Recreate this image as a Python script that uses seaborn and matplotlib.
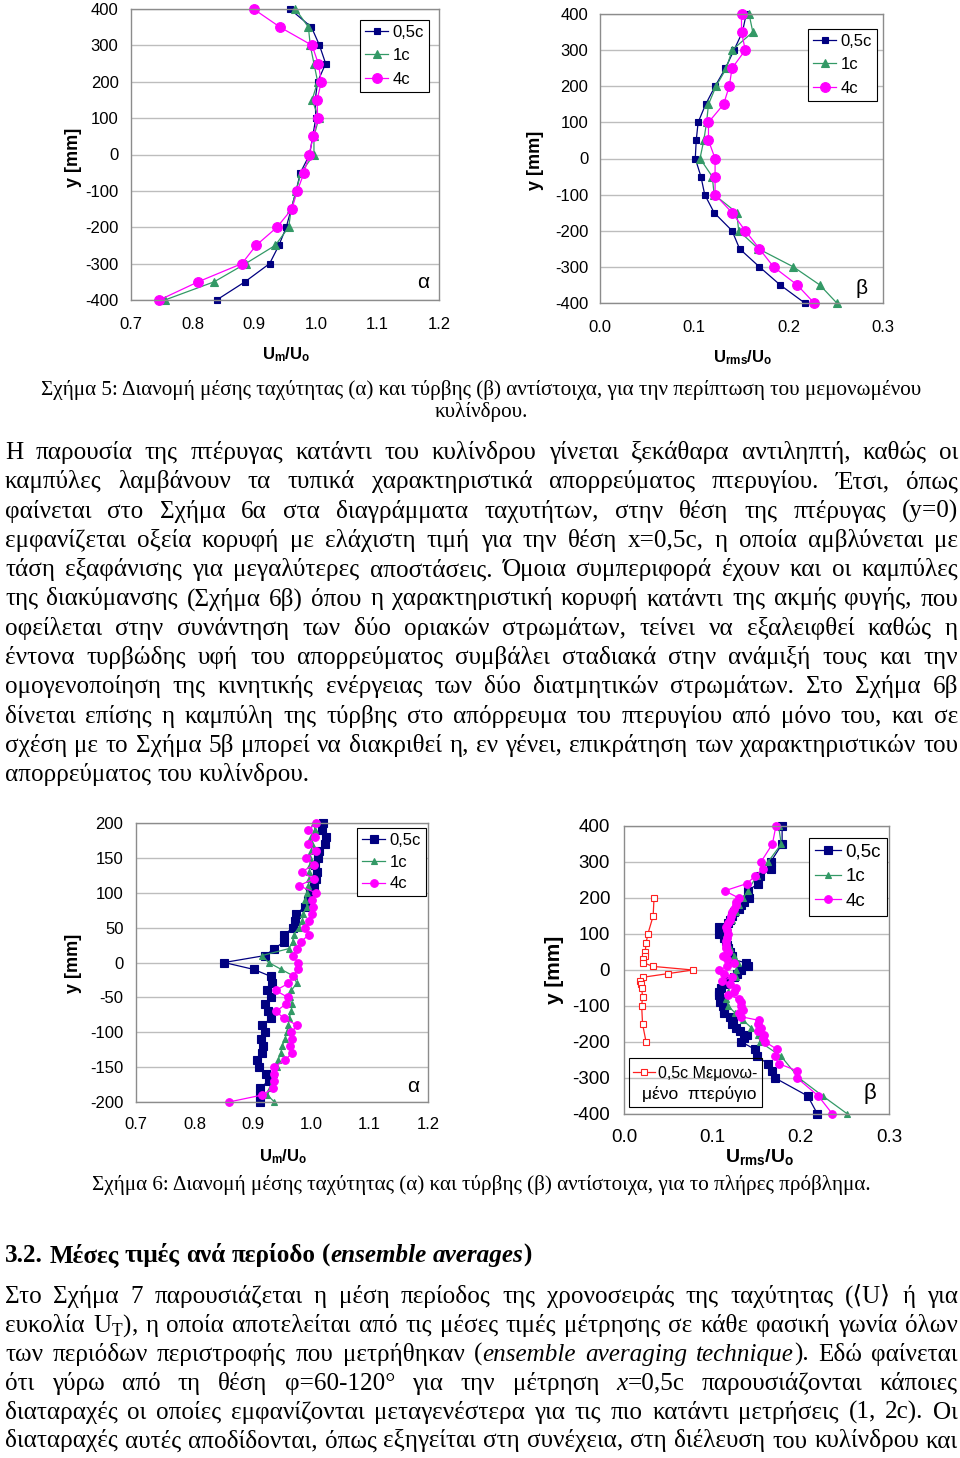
import matplotlib
matplotlib.use('Agg')
import matplotlib.pyplot as plt
import seaborn as sns
from matplotlib.patches import Rectangle

# ---- Figure 5: isolated cylinder, profiles every 50 mm ----
y5 = [400, 350, 300, 250, 200, 150, 100, 50, 0, -50, -100, -150, -200, -250, -300, -350, -400]
um5_05c = [0.958, 0.993, 1.006, 1.016, 1.003, 0.999, 1.000, 0.995, 0.990, 0.975, 0.968, 0.960, 0.952, 0.940, 0.925, 0.885, 0.839]
um5_1c = [0.967, 0.988, 0.991, 0.997, 1.003, 0.994, 1.005, 0.997, 0.997, 0.976, 0.968, 0.960, 0.956, 0.934, 0.886, 0.835, 0.755]
um5_4c = [0.899, 0.942, 0.994, 1.004, 1.009, 1.002, 1.003, 0.996, 0.989, 0.981, 0.970, 0.961, 0.937, 0.903, 0.880, 0.809, 0.746]
rms5_05c = [0.155, 0.151, 0.142, 0.133, 0.122, 0.112, 0.104, 0.102, 0.101, 0.107, 0.111, 0.121, 0.140, 0.148, 0.169, 0.191, 0.217]
rms5_1c = [0.158, 0.162, 0.140, 0.134, 0.123, 0.115, 0.113, 0.110, 0.106, 0.119, 0.121, 0.145, 0.147, 0.168, 0.205, 0.233, 0.251]
rms5_4c = [0.150, 0.150, 0.154, 0.140, 0.137, 0.131, 0.115, 0.115, 0.122, 0.122, 0.122, 0.140, 0.154, 0.169, 0.184, 0.209, 0.227]

# ---- Figure 6a: full problem, mean velocity every 10 mm ----
y6a = [200, 190, 180, 170, 160, 150, 140, 130, 120, 110, 100, 90, 80, 70, 60, 50, 40, 30, 20, 10, 0,
       -10, -20, -30, -40, -50, -60, -70, -80, -90, -100, -110, -120, -130, -140, -150, -160, -170, -180, -190, -200]
um6_05c = [1.020, 1.019, 1.026, 1.024, 1.014, 1.011, 1.006, 1.010, 1.008, 1.004, 0.998, 0.995, 0.990, 0.974, 0.972, 0.969,
           0.954, 0.954, 0.937, 0.921, 0.851, 0.902, 0.931, 0.933, 0.925, 0.931, 0.921, 0.926, 0.931, 0.916, 0.921,
           0.914, 0.917, 0.916, 0.908, 0.911, 0.923, 0.927, 0.912, 0.912, 0.913]
um6_1c = [1.005, 1.006, 1.000, 1.002, 1.000, 0.998, 0.998, 0.997, 0.997, 0.995, 0.993, 0.990, 0.993, 0.986, 0.985, 0.979,
          0.970, 0.968, 0.962, 0.916, 0.927, 0.949, 0.971, 0.975, 0.966, 0.963, 0.967, 0.966, 0.962, 0.961, 0.958,
          0.955, 0.950, 0.948, 0.943, 0.941, 0.936, 0.934, 0.930, 0.925, 0.937]
um6_4c = [1.009, 0.995, 1.007, 0.995, 1.008, 0.991, 1.004, 0.984, 1.004, 0.979, 1.008, 1.002, 1.003, 1.001, 0.997, 0.990,
          0.997, 0.982, 0.975, 0.968, 0.977, 0.977, 0.969, 0.961, 0.939, 0.960, 0.956, 0.940, 0.953, 0.976, 0.966,
          0.967, 0.963, 0.967, 0.955, 0.936, 0.937, 0.937, 0.935, 0.916, 0.859]

# ---- Figure 6b: full problem, turbulence ----
y6b = [400, 350, 300, 280, 260, 240, 220,
       200, 190, 180, 170, 160, 150, 140, 130, 120, 110, 100, 90, 80, 70, 60, 50, 40, 30, 20, 10, 0,
       -10, -20, -30, -40, -50, -60, -70, -80, -90, -100, -110, -120, -130, -140, -150, -160, -170, -180, -190, -200,
       -220, -240, -260, -280, -300, -350, -400]
rms6_05c = [0.179, 0.179, 0.166, 0.166, 0.154, 0.152, 0.140,
            0.142, 0.136, 0.133, 0.130, 0.125, 0.122, 0.120, 0.118, 0.108, 0.110, 0.107, 0.113, 0.116, 0.117, 0.118,
            0.120, 0.122, 0.122, 0.138, 0.140, 0.132,
            0.128, 0.125, 0.118, 0.113, 0.110, 0.108, 0.107, 0.110, 0.109, 0.112, 0.113, 0.113, 0.120, 0.123, 0.122,
            0.127, 0.131, 0.139, 0.136, 0.133,
            0.148, 0.150, 0.163, 0.168, 0.171, 0.208, 0.219]
rms6_4c = [0.172, 0.168, 0.155, 0.157, 0.148, 0.139, 0.114,
           0.130, 0.127, 0.127, 0.125, 0.122, 0.121, 0.120, 0.118, 0.116, 0.117, 0.118, 0.117, 0.116, 0.115, 0.116,
           0.118, 0.112, 0.117, 0.124, 0.117, 0.108,
           0.113, 0.122, 0.111, 0.120, 0.127, 0.125, 0.118, 0.130, 0.132, 0.133, 0.135, 0.130, 0.133, 0.153, 0.152,
           0.155, 0.152, 0.158, 0.157, 0.160,
           0.173, 0.171, 0.175, 0.196, 0.196, 0.220, 0.236]
y6b_1c = [400, 350, 300, 260, 220, 200, 180, 160, 140, 120, 100, 80, 60, 40, 20, 0,
          -20, -40, -60, -80, -100, -120, -140, -160, -180, -200, -240, -300, -350, -400]
rms6_1c = [0.175, 0.178, 0.163, 0.150, 0.140, 0.135, 0.130, 0.127, 0.122, 0.118, 0.116, 0.117, 0.120, 0.125, 0.129, 0.127,
           0.127, 0.121, 0.118, 0.116, 0.118, 0.126, 0.135, 0.144, 0.152, 0.154, 0.178, 0.198, 0.225, 0.253]
y_wing = [200, 150, 100, 75, 50, 40, 30, 20, 10, 0, -10, -20, -30, -40, -50, -75, -100, -150, -200]
rms_wing = [0.034, 0.033, 0.027, 0.025, 0.024, 0.024, 0.022, 0.022, 0.033, 0.078, 0.050, 0.022, 0.018, 0.019,
            0.020, 0.021, 0.020, 0.021, 0.025]

um_ticks = [0.7, 0.8, 0.9, 1.0, 1.1, 1.2]
rms_ticks = [0.0, 0.1, 0.2, 0.3]
y400_ticks = [-400, -300, -200, -100, 0, 100, 200, 300, 400]
y200_ticks = [-200, -150, -100, -50, 0, 50, 100, 150, 200]

# ---- page text ----
caption5 = ["Σχήμα 5: Διανομή μέσης ταχύτητας (α) και τύρβης (β) αντίστοιχα, για την περίπτωση του μεμονωμένου",
            "κυλίνδρου."]
para1 = [
    "Η παρουσία της πτέρυγας κατάντι του κυλίνδρου γίνεται ξεκάθαρα αντιληπτή, καθώς οι",
    "καμπύλες λαμβάνουν τα τυπικά χαρακτηριστικά απορρεύματος πτερυγίου. Έτσι, όπως",
    "φαίνεται στο Σχήμα 6α στα διαγράμματα ταχυτήτων, στην θέση της πτέρυγας (y=0)",
    "εμφανίζεται οξεία κορυφή με ελάχιστη τιμή για την θέση x=0,5c, η οποία αμβλύνεται με",
    "τάση εξαφάνισης για μεγαλύτερες αποστάσεις. Όμοια συμπεριφορά έχουν και οι καμπύλες",
    "της διακύμανσης (Σχήμα 6β) όπου η χαρακτηριστική κορυφή κατάντι της ακμής φυγής, που",
    "οφείλεται στην συνάντηση των δύο οριακών στρωμάτων, τείνει να εξαλειφθεί καθώς η",
    "έντονα τυρβώδης υφή του απορρεύματος συμβάλει σταδιακά στην ανάμιξή τους και την",
    "ομογενοποίηση της κινητικής ενέργειας των δύο διατμητικών στρωμάτων. Στο Σχήμα 6β",
    "δίνεται επίσης η καμπύλη της τύρβης στο απόρρευμα του πτερυγίου από μόνο του, και σε",
    "σχέση με το Σχήμα 5β μπορεί να διακριθεί η, εν γένει, επικράτηση των χαρακτηριστικών του",
    "απορρεύματος του κυλίνδρου.",
]
caption6 = "Σχήμα 6: Διανομή μέσης ταχύτητας (α) και τύρβης (β) αντίστοιχα, για το πλήρες πρόβλημα."
heading = "3.2. Μέσες τιμές ανά περίοδο (*ensemble averages*)"
para2 = [
    "Στο Σχήμα 7 παρουσιάζεται η μέση περίοδος της χρονοσειράς της ταχύτητας (⟨U⟩ ή για",
    r"ευκολία U$_{\mathrm{T}}$), η οποία αποτελείται από τις μέσες τιμές μέτρησης σε κάθε φασική γωνία όλων",
    "των περιόδων περιστροφής που μετρήθηκαν (*ensemble averaging technique*). Εδώ φαίνεται",
    "ότι γύρω από τη θέση φ=60-120° για την μέτρηση *x*=0,5c παρουσιάζονται κάποιες",
    "διαταραχές οι οποίες εμφανίζονται μεταγενέστερα για τις πιο κατάντι μετρήσεις (1, 2c). Οι",
    "διαταραχές αυτές αποδίδονται, όπως εξηγείται στη συνέχεια, στη διέλευση του κυλίνδρου και",
]

NAVY, GREEN, MAGENTA, RED = '#000080', '#339966', '#ff00ff', '#ff2020'

W, H = 960, 1458
plt.rcParams['font.family'] = ['Liberation Sans', 'DejaVu Sans']
plt.rcParams['mathtext.fontset'] = 'custom'
plt.rcParams['mathtext.rm'] = 'Liberation Serif'
plt.rcParams['mathtext.bf'] = 'Liberation Sans:bold'
SERIF = ['Liberation Serif', 'DejaVu Serif', 'DejaVu Sans']

fig = plt.figure(figsize=(W / 100, H / 100), dpi=100)
renderer = fig.canvas.get_renderer()


def fx(x):
    return x / W


def fy(y):
    return 1 - y / H


def make_panel(box, xticks, yticks, fs, xpad, ypad):
    left, top, right, bottom = box
    ax = fig.add_axes([fx(left), fy(bottom), (right - left) / W, (bottom - top) / H])
    ax.set_xlim(xticks[0], xticks[-1])
    ax.set_ylim(yticks[0], yticks[-1])
    ax.set_xticks(xticks)
    ax.set_xticklabels([f"{t:.1f}" for t in xticks])
    ax.set_yticks(yticks)
    ax.set_yticklabels([str(t) for t in yticks])
    ax.tick_params(axis='both', length=0, labelsize=fs)
    ax.tick_params(axis='x', pad=xpad)
    ax.tick_params(axis='y', pad=ypad)
    ax.yaxis.grid(True, color='#bdbdbd', lw=1)
    ax.xaxis.grid(False)
    ax.set_axisbelow(True)
    for s in ax.spines.values():
        s.set_color('#8c8c8c')
        s.set_linewidth(1)
    return ax


def series(ax, x, y, color, marker, ms, label, face=None):
    sns.lineplot(x=x, y=y, sort=False, estimator=None, ax=ax, color=color, lw=0.9,
                 marker=marker, markersize=ms, markeredgecolor=color,
                 markerfacecolor=face if face else color, markeredgewidth=0.8,
                 label=label, clip_on=False)


def legend_at(ax, handles, labels, left, top, fs, frame=True, hl=1.4, hp=0.25, ls=0.5):
    leg = ax.legend(handles, labels, loc='upper left', bbox_to_anchor=(fx(left), fy(top)),
                    bbox_transform=fig.transFigure, borderaxespad=0, fancybox=False,
                    framealpha=1, edgecolor='black', fontsize=fs, handlelength=hl,
                    handletextpad=hp, labelspacing=ls, borderpad=0.3, frameon=frame)
    leg.get_frame().set_linewidth(0.8)
    return leg


def labels(xlab, xpos, ylabpos, fs, yfs):
    fig.text(fx(xpos[0]), fy(xpos[1]), xlab, ha='center', va='center', fontsize=fs)
    fig.text(fx(ylabpos[0]), fy(ylabpos[1]), 'y [mm]', rotation=90, ha='center', va='center',
             fontsize=yfs, fontweight='bold')


# ---- Figure 5a ----
ax1 = make_panel((131, 9, 439, 300), um_ticks, y400_ticks, 12, 12, 9)
series(ax1, um5_05c, y5, NAVY, 's', 3.8, '0,5c')
series(ax1, um5_1c, y5, GREEN, '^', 5.5, '1c')
series(ax1, um5_4c, y5, MAGENTA, 'o', 7, '4c')
h, l = ax1.get_legend_handles_labels()
legend_at(ax1, h, l, 360, 20, 12)
labels(r'$\mathbf{U_{m}/U_{o}}$', (286, 355), (73, 157), 12, 13)
fig.text(fx(423), fy(282), 'α', ha='center', va='center', fontsize=15)

# ---- Figure 5b ----
ax2 = make_panel((600, 14, 883, 303), rms_ticks, y400_ticks, 12, 12, 8.5)
series(ax2, rms5_05c, y5, NAVY, 's', 3.8, '0,5c')
series(ax2, rms5_1c, y5, GREEN, '^', 5.5, '1c')
series(ax2, rms5_4c, y5, MAGENTA, 'o', 7, '4c')
h, l = ax2.get_legend_handles_labels()
legend_at(ax2, h, l, 808, 29, 12)
labels(r'$\mathbf{U_{rms}/U_{o}}$', (743, 358), (535, 160), 12, 13)
fig.text(fx(862), fy(288), 'β', ha='center', va='center', fontsize=15)

# ---- Figure 6a ----
ax3 = make_panel((136, 823, 428, 1102), um_ticks, y200_ticks, 12, 10.5, 9)
series(ax3, um6_05c, y6a, NAVY, 's', 6, '0,5c')
series(ax3, um6_1c, y6a, GREEN, '^', 5, '1c')
series(ax3, um6_4c, y6a, MAGENTA, 'o', 5.5, '4c')
h, l = ax3.get_legend_handles_labels()
legend_at(ax3, h, l, 357, 828, 12, ls=0.4)
labels(r'$\mathbf{U_{m}/U_{o}}$', (283, 1157), (73, 963), 12, 13)
fig.text(fx(413), fy(1087), 'α', ha='center', va='center', fontsize=15)

# ---- Figure 6b ----
ax4 = make_panel((624, 826, 889, 1114), rms_ticks, y400_ticks, 13.5, 10.5, 10)
series(ax4, rms6_05c, y6b, NAVY, 's', 6, '0,5c')
series(ax4, rms6_1c, y6b_1c, GREEN, '^', 5, '1c')
series(ax4, rms6_4c, y6b, MAGENTA, 'o', 5.5, '4c')
series(ax4, rms_wing, y_wing, RED, 's', 5, '0,5c Μεμονω-', face='white')
h, l = ax4.get_legend_handles_labels()
leg = legend_at(ax4, h[:3], l[:3], 809, 838, 13.5, ls=0.4)
ax4.add_artist(leg)
legend_at(ax4, h[3:], l[3:], 628, 1061, 11.5, frame=False, hl=1.4, hp=0.15)
fig.add_artist(Rectangle((fx(629), fy(1107)), (762 - 629) / W, (1107 - 1058) / H,
                         transform=fig.transFigure, fill=False, edgecolor='black', lw=0.8))
fig.text(fx(642), fy(1094), 'μένο  πτερύγιο', ha='left', va='center', fontsize=12.5)
labels(r'$\mathbf{U_{rms}/U_{o}}$', (760, 1157), (555, 970), 14, 15)
fig.text(fx(870), fy(1093), 'β', ha='center', va='center', fontsize=16)


# ---- justified page text ----
def parse(line):
    words, italic = [], False
    for raw in line.split(' '):
        if not raw:
            continue
        segs, buf = [], ''
        for ch in raw:
            if ch == '*':
                if buf:
                    segs.append((buf, italic))
                    buf = ''
                italic = not italic
            else:
                buf += ch
        if buf:
            segs.append((buf, italic))
        words.append(segs)
    return words


def width(s, size, italic=False, weight='normal'):
    t = fig.text(0, 0, s, fontsize=size, family=SERIF, style='italic' if italic else 'normal', weight=weight)
    w = t.get_window_extent(renderer).width
    t.remove()
    return w


def natural(line, size, weight='normal'):
    words = parse(line)
    total = sum(width(s, size, it, weight) for w in words for s, it in w)
    space = width('a a', size, weight=weight) - width('aa', size, weight=weight)
    return total + space * (len(words) - 1)


def draw_line(line, y, size, x0=5, x1=958, justify=True, weight='normal'):
    words = parse(line)
    widths = [[width(s, size, it, weight) for s, it in w] for w in words]
    total = sum(sum(w) for w in widths)
    if justify and len(words) > 1:
        gap = (x1 - x0 - total) / (len(words) - 1)
    else:
        gap = width('a a', size, weight=weight) - width('aa', size, weight=weight)
    x = x0
    for w, ws in zip(words, widths):
        for (s, it), sw in zip(w, ws):
            fig.text(fx(x), fy(y), s, fontsize=size, family=SERIF, va='baseline',
                     style='italic' if it else 'normal', weight=weight)
            x += sw
        x += gap


cap5_size = 10 * 882 / natural(caption5[0], 10)
fig.text(fx(481), fy(395), caption5[0], ha='center', va='baseline', fontsize=cap5_size, family=SERIF)
fig.text(fx(481), fy(417), caption5[1], ha='center', va='baseline', fontsize=cap5_size, family=SERIF)

body_size = 10 * 303 / natural(para1[-1], 10)
for i, line in enumerate(para1):
    draw_line(line, 459 + i * 29.3, body_size, justify=i < len(para1) - 1)

cap6_size = 10 * 778 / natural(caption6, 10)
fig.text(fx(481), fy(1190), caption6, ha='center', va='baseline', fontsize=cap6_size, family=SERIF)

head_size = 10 * 528 / natural(heading, 10, 'bold')
draw_line(heading, 1262, head_size, justify=False, weight='bold')

for i, line in enumerate(para2):
    draw_line(line, 1303 + i * 28.9, body_size, justify=True)

fig.savefig('out.png', dpi=100, facecolor='white')
